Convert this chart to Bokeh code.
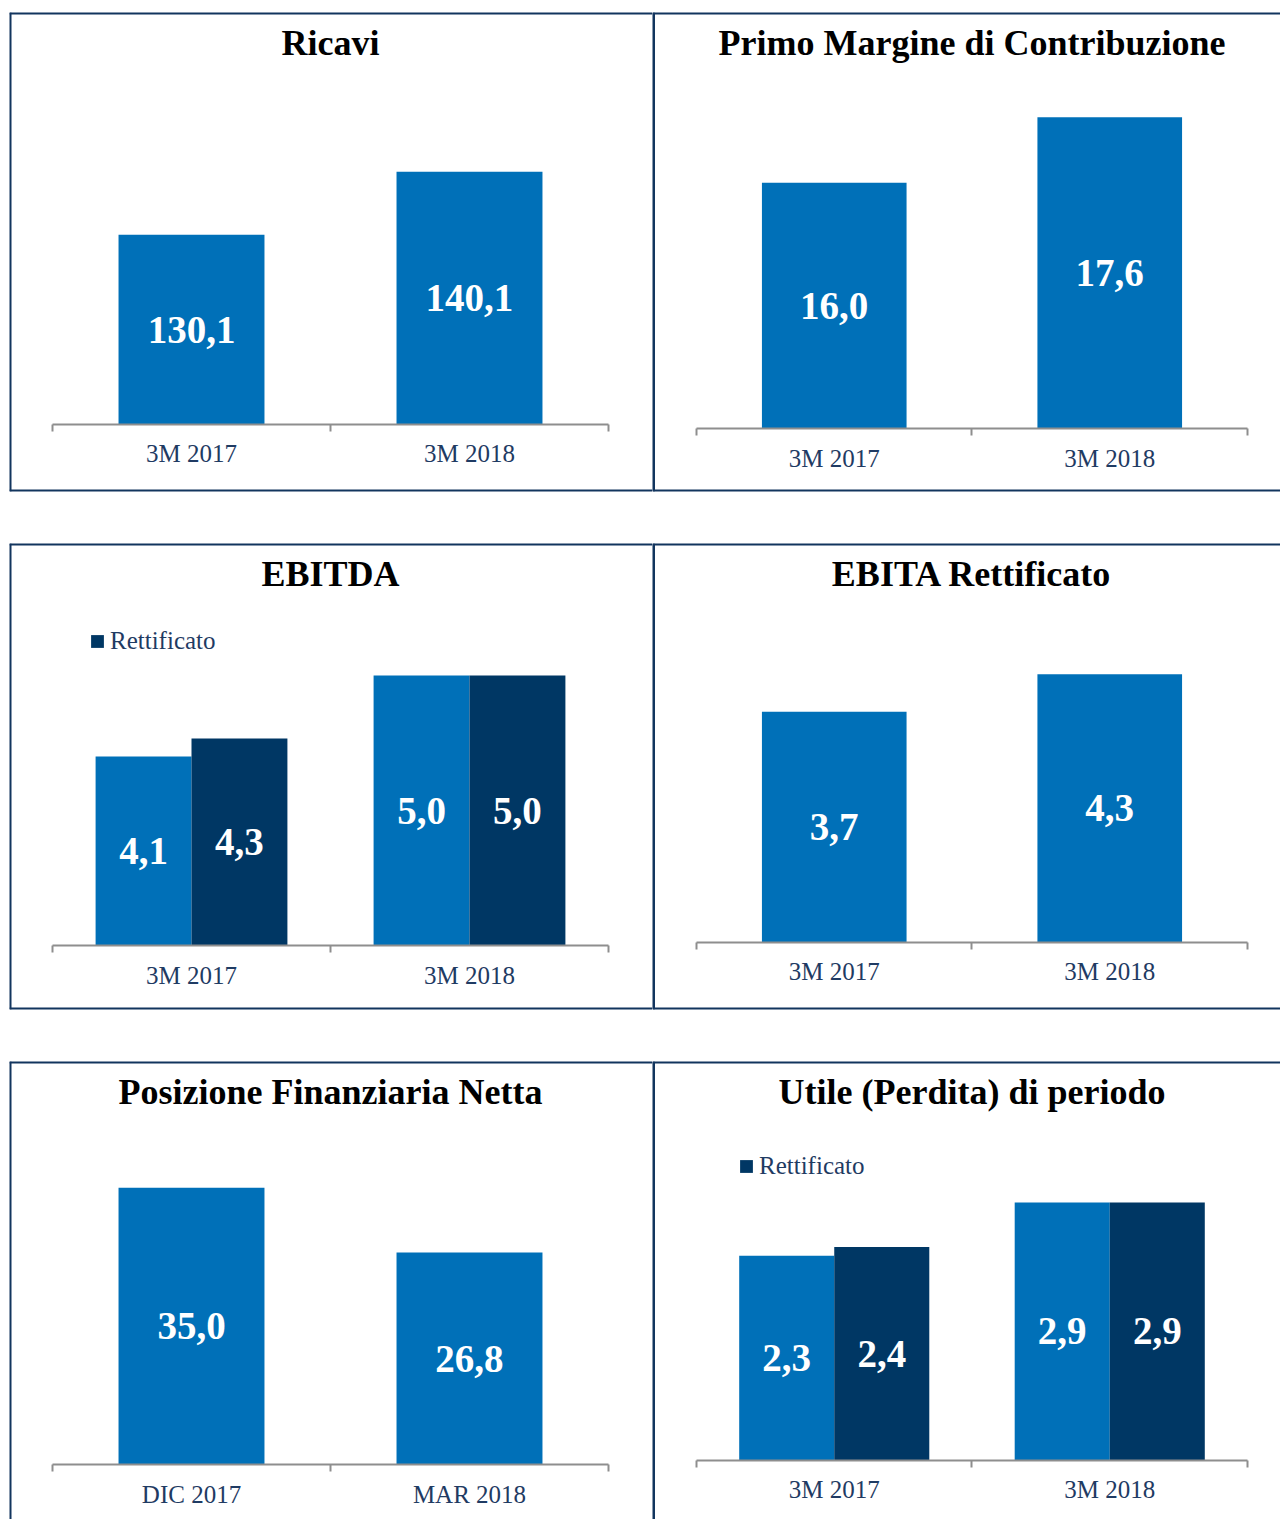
from bokeh.plotting import figure
from bokeh.layouts import column, row
from bokeh.models import Range1d, LinearAxis, FixedTicker, Label, Legend, LegendItem, Span
from bokeh.core.properties import value
from bokeh.embed import file_html
from bokeh.resources import INLINE

# ---------------- data ----------------
ricavi_title = "Ricavi"
ricavi_cats = ["3M 2017", "3M 2018"]
ricavi_vals = [130.1, 140.1]

pmc_title = "Primo Margine di Contribuzione"
pmc_cats = ["3M 2017", "3M 2018"]
pmc_vals = [16.0, 17.6]

ebitda_title = "EBITDA"
ebitda_cats = ["3M 2017", "3M 2018"]
ebitda_vals = [4.1, 5.0]
ebitda_adj_vals = [4.3, 5.0]

ebita_title = "EBITA Rettificato"
ebita_cats = ["3M 2017", "3M 2018"]
ebita_vals = [3.7, 4.3]

pfn_title = "Posizione Finanziaria Netta"
pfn_cats = ["DIC 2017", "MAR 2018"]
pfn_vals = [35.0, 26.8]

utile_title = "Utile (Perdita) di periodo"
utile_cats = ["3M 2017", "3M 2018"]
utile_vals = [2.3, 2.9]
utile_adj_vals = [2.4, 2.9]

legend_label = "Rettificato"

# ---------------- style ----------------
FONT = "Liberation Serif"
LIGHT = "#0070B8"
DARK = "#003764"
BORDER = "#12355E"
AXIS_GRAY = "#8E8E8E"
TICK_TEXT = "#1F3B63"


def fmt(v):
    return f"{v:.1f}".replace(".", ",")


def panel(title, cats, series, base, yr, left, top_border, bottom_border, height,
          sides, legend_loc=None):
    width = 652 if left else 628
    mbl = 9 if left else 0
    xr = Range1d(-0.1547, 2.1583) if left else Range1d(-0.1597, 2.1198)
    p = figure(width=width, height=height, x_range=xr, y_range=Range1d(*yr),
               x_axis_type=None, y_axis_type=None, toolbar_location=None,
               output_backend="svg", min_border=0)
    p.min_border_left = mbl
    p.min_border_right = 0
    p.min_border_top = top_border
    p.min_border_bottom = bottom_border
    p.outline_line_color = None
    p.background_fill_color = "white"
    p.border_fill_color = "white"

    frame_h = height - top_border - bottom_border

    # panel box edges (only the sides visible in the reference);
    # the shared middle edge is drawn once, by the right-hand panel
    edge = {"top": ("width", frame_h, 4), "bottom": ("width", 0, 4),
            "left": ("height", 0, 4 if left else 5)}
    for s in sides:
        dim, loc, lw = edge[s]
        p.add_layout(Span(location=loc, location_units="screen", dimension=dim,
                          line_color=BORDER, line_width=lw))

    n = len(cats)
    centers = [i + 0.5 for i in range(n)]
    if len(series) == 1:
        bw, offsets = 0.525, [0.0]
    else:
        bw, offsets = 0.345, [-0.1725, 0.1725]
    colors = [LIGHT, DARK]
    rends = []
    for k, vals in enumerate(series):
        xs = [c + offsets[k] for c in centers]
        r = p.vbar(x=xs, top=vals, bottom=base, width=bw,
                   fill_color=colors[k], line_color=None)
        rends.append(r)
        p.text(x=xs, y=[(v + base) / 2 for v in vals], text=[fmt(v) for v in vals],
               text_align="center", text_baseline="middle", text_color="white",
               text_font=value(FONT), text_font_style="bold", text_font_size="39px")

    tick_axis = LinearAxis(ticker=FixedTicker(ticks=list(range(n + 1))),
                           fixed_location=base, bounds=(0, n),
                           axis_line_color=AXIS_GRAY, axis_line_width=2,
                           major_tick_line_color=AXIS_GRAY, major_tick_line_width=2,
                           major_tick_in=0, major_tick_out=7,
                           minor_tick_line_color=None, major_label_text_color=None)
    p.add_layout(tick_axis, "below")
    label_axis = LinearAxis(ticker=FixedTicker(ticks=centers), fixed_location=base,
                            major_label_overrides={c: cat for c, cat in zip(centers, cats)},
                            axis_line_color=None, major_tick_line_color=None,
                            minor_tick_line_color=None, major_tick_in=0, major_tick_out=0,
                            major_label_standoff=16,
                            major_label_text_font=FONT, major_label_text_font_size="25px",
                            major_label_text_color=TICK_TEXT)
    p.add_layout(label_axis, "below")

    p.add_layout(Label(x=n / 2, y=frame_h - 30, x_units="data", y_units="screen",
                       text=title, text_align="center", text_baseline="middle",
                       text_font=FONT, text_font_style="bold", text_font_size="36px",
                       text_color="black"))

    if legend_loc is not None:
        lg = Legend(items=[LegendItem(label=legend_label, renderers=[rends[1]])],
                    location=legend_loc, orientation="horizontal",
                    glyph_width=16, glyph_height=16, label_standoff=5,
                    label_text_font=FONT, label_text_font_size="25px",
                    label_text_color=TICK_TEXT, background_fill_alpha=0,
                    border_line_color=None, padding=0, margin=0, spacing=0)
        p.add_layout(lg, "center")
    return p


p1 = panel(ricavi_title, ricavi_cats, [ricavi_vals], 100, (89.365, 165.397),
           True, 12, 1, 492, ["top", "bottom", "left"])
p2 = panel(pmc_title, pmc_cats, [pmc_vals], 10, (8.462, 20.159),
           False, 12, 1, 492, ["top", "bottom", "left"])
p3 = panel(ebitda_title, ebitda_cats, [ebitda_vals, ebitda_adj_vals], 2, (1.289, 6.467),
           True, 51, 1, 518, ["top", "bottom", "left"], legend_loc=(80, 354))
p4 = panel(ebita_title, ebita_cats, [ebita_vals], 0, (-1.075, 6.399),
           False, 51, 1, 518, ["top", "bottom", "left"])
p5 = panel(pfn_title, pfn_cats, [pfn_vals], 0, (-6.953, 50.95),
           True, 51, 0, 509, ["top", "left"])
p6 = panel(utile_title, utile_cats, [utile_vals, utile_adj_vals], 0, (-0.663, 4.483),
           False, 51, 0, 509, ["top", "left"], legend_loc=(86, 339))

layout = column(row(p1, p2), row(p3, p4), row(p5, p6))

open("out.html", "w").write(file_html(layout, INLINE))
